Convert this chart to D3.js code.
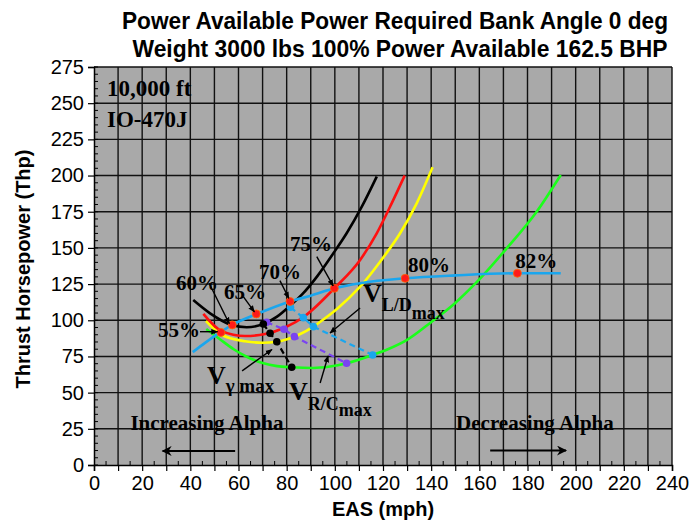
<!DOCTYPE html>
<html><head><meta charset="utf-8">
<script src="https://cdn.jsdelivr.net/npm/d3@7"></script>
<style>body{margin:0;background:#fff}svg{display:block}</style>
</head><body>
<svg id="c" width="690" height="523"></svg>
<script>
// ---- data (EAS mph, thrust horsepower) ----
const xTicks = d3.range(0, 241, 20);
const yTicks = d3.range(0, 276, 25);
const curveBlack  = [[41.2,114],[48.2,104.8],[57.2,96.7],[63.4,95.2],[70.3,97.4],[76,102.5],[81.4,110],[86.5,118],[92.5,130],[99.4,146.3],[104.9,160.1],[111.2,178.5],[117.4,199.3]];
const curveRed    = [[45.4,104.4],[53,92.5],[62.7,89.1],[71,90.5],[79.3,95],[87.6,103],[99.8,122.1],[110.5,141.7],[117.4,160.1],[123.6,180.8],[129,200]];
const curveYellow = [[46.5,99.5],[53,90],[62.7,85.5],[70,84.5],[75.9,85.2],[84.8,89.8],[91.1,95.6],[95.2,100.5],[101,108],[110.5,123.2],[118.8,140.5],[127.1,160.1],[134,180.8],[140.6,205.7]];
const curveGreen  = [[46.6,94],[52.3,86.9],[58,80],[63.4,74.8],[70,70.5],[76,68.3],[82.1,67.5],[91.1,67],[98,68],[104.9,70.3],[115.7,76],[122,80],[130,86.5],[140.2,99],[150,112],[158.2,125.1],[171.4,149.8],[183.8,175],[193.8,200.4]];
const powerAvail  = [[41,78],[45,83],[50.2,89.2],[57.2,96.7],[67.6,104.3],[81.4,113],[90,117],[99.8,122.1],[110.5,125.6],[129.2,129],[150,131],[175.8,132.5],[193.8,132.5]];
const vLDmax   = [[81.6,109],[86.9,101.8],[91.1,95.6],[115.7,76]];
const vRCmax   = [[71.7,98.6],[78.9,93.8],[83.2,88.7],[104.9,70.3]];
const vGammaMax= [[70.3,97.4],[73.1,91],[75.9,85.2],[82.1,67.5]];
const pctLabels = ["55%","60%","65%","70%","75%","80%","82%"];
const pctPoints = [[52.7,91.6],[57.4,96.8],[67.4,104.4],[81.4,113],[99.8,122.1],[129.2,129],[175.8,132.5]];
const pctTextAt = [[35.3,88.5],[42.8,121],[62.7,114.7],[77.2,128.5],[90.1,147.9],[139.1,133.4],[183.6,136.1]];

// ---- layout ----
const svg = d3.select("#c");
const x = d3.scaleLinear().domain([0,240]).range([94,672]);
const y = d3.scaleLinear().domain([0,275]).range([465,67]);

// titles
svg.append("text").attr("x",395).attr("y",29).attr("text-anchor","middle")
  .attr("font-family","Liberation Sans, Arial, sans-serif").attr("font-weight","bold").attr("font-size",23)
  .attr("textLength",546).attr("lengthAdjust","spacingAndGlyphs")
  .text("Power Available Power Required Bank Angle 0 deg");
svg.append("text").attr("x",400).attr("y",57).attr("text-anchor","middle")
  .attr("font-family","Liberation Sans, Arial, sans-serif").attr("font-weight","bold").attr("font-size",23)
  .attr("textLength",535).attr("lengthAdjust","spacingAndGlyphs")
  .text("Weight 3000 lbs 100% Power Available 162.5 BHP");

// plot background
svg.append("rect").attr("x",x(0)).attr("y",y(275)).attr("width",x(240)-x(0)).attr("height",y(0)-y(275)).attr("fill","#a9a9a9");

// grid
const g = svg.append("g");
g.selectAll("line.v").data(d3.range(10,241,10)).join("line")
  .attr("x1",d=>x(d)).attr("x2",d=>x(d)).attr("y1",y(0)).attr("y2",y(275))
  .attr("stroke","#111").attr("stroke-width",1.4);
g.selectAll("line.h").data(d3.range(25,276,25)).join("line")
  .attr("x1",x(0)).attr("x2",x(240)).attr("y1",d=>y(d)).attr("y2",d=>y(d))
  .attr("stroke","#111").attr("stroke-width",1.4);

// minor ticks
g.selectAll("line.my").data(d3.range(0,276,5)).join("line")
  .attr("x1",x(0)).attr("x2",x(0)+4).attr("y1",d=>y(d)).attr("y2",d=>y(d)).attr("stroke","#000").attr("stroke-width",1);
g.selectAll("line.mx").data(d3.range(5,241,10)).join("line")
  .attr("x1",d=>x(d)).attr("x2",d=>x(d)).attr("y1",y(0)).attr("y2",y(0)-4).attr("stroke","#000").attr("stroke-width",1);

// axes
const yAxis = svg.append("g").attr("transform",`translate(${x(0)},0)`)
  .call(d3.axisLeft(y).tickValues(yTicks).tickSize(6).tickPadding(4));
const xAxis = svg.append("g").attr("transform",`translate(0,${y(0)})`)
  .call(d3.axisBottom(x).tickValues(d3.range(0,241,10)).tickSize(6).tickPadding(5).tickFormat(d=> d%20===0? d : ""));
[yAxis,xAxis].forEach(a=>{
  a.selectAll("text").attr("font-family","Liberation Sans, Arial, sans-serif").attr("font-size",20).attr("fill","#000");
  a.selectAll("line").attr("stroke","#000").attr("stroke-width",1.2);
  a.select(".domain").attr("stroke","#000").attr("stroke-width",1.5);
});

svg.append("text").attr("x",383).attr("y",516).attr("text-anchor","middle")
  .attr("font-family","Liberation Sans, Arial, sans-serif").attr("font-weight","bold").attr("font-size",20)
  .text("EAS (mph)");
svg.append("text").attr("transform","translate(30,269) rotate(-90)").attr("text-anchor","middle")
  .attr("font-family","Liberation Sans, Arial, sans-serif").attr("font-weight","bold").attr("font-size",20)
  .text("Thrust Horsepower (Thp)");

// defs arrowhead
svg.append("defs").append("marker").attr("id","ah").attr("viewBox","0 0 10 10").attr("refX",9).attr("refY",5)
  .attr("markerWidth",7).attr("markerHeight",7).attr("markerUnits","userSpaceOnUse").attr("orient","auto")
  .append("path").attr("d","M0,1 L10,5 L0,9 Z").attr("fill","#000");
svg.select("defs").append("marker").attr("id","ahBig").attr("viewBox","0 0 10 10").attr("refX",9).attr("refY",5)
  .attr("markerWidth",12).attr("markerHeight",10).attr("markerUnits","userSpaceOnUse").attr("orient","auto")
  .append("path").attr("d","M0,0 L10,5 L0,10 L3,5 Z").attr("fill","#000");

const line = d3.line().x(d=>x(d[0])).y(d=>y(d[1])).curve(d3.curveMonotoneX);
const straight = d3.line().x(d=>x(d[0])).y(d=>y(d[1]));
const plot = svg.append("g");
[[curveGreen,"#1aff1a"],[curveYellow,"#ffff00"],[curveRed,"#ff1010"],[curveBlack,"#000"],[powerAvail,"#1aa6ee"]]
  .forEach(([d,c])=> plot.append("path").attr("d",line(d)).attr("fill","none").attr("stroke",c).attr("stroke-width",2.6));

// dashed optimal-speed lines
[[vLDmax,"#1aa6ee"],[vRCmax,"#7a44f0"],[vGammaMax,"#000"]].forEach(([d,c])=>{
  plot.append("path").attr("d",straight(d)).attr("fill","none").attr("stroke",c).attr("stroke-width",2.2).attr("stroke-dasharray","6,4");
  plot.selectAll(null).data(d).join("circle").attr("cx",p=>x(p[0])).attr("cy",p=>y(p[1])).attr("r",3.8).attr("fill",c);
});

// percent points
plot.selectAll(null).data(pctPoints).join("circle").attr("cx",p=>x(p[0])).attr("cy",p=>y(p[1])).attr("r",4)
  .attr("fill","#ff1a1a").attr("stroke","#ff6a00").attr("stroke-width",0.8);

const serif = "Liberation Serif, Times New Roman, serif";
plot.selectAll(null).data(pctLabels).join("text")
  .attr("x",(d,i)=>x(pctTextAt[i][0])).attr("y",(d,i)=>y(pctTextAt[i][1])).attr("text-anchor","middle")
  .attr("font-family",serif).attr("font-weight","bold").attr("font-size",21).text(d=>d);

// leader arrows (data coords)
const leaders = [
  [[44,92.1],[51.3,92.1]],
  [[47.8,125.6],[56.2,97.6]],
  [[62,116.3],[66.6,105.8]],
  [[77.2,127.4],[80.9,115.2]],
  [[92.5,144],[99.3,123.8]],
  [[110.5,108.5],[98,91.2]],
  [[61.5,65],[73.9,79.8]],
  [[93.9,56.7],[97.2,75.3]]
];
leaders.forEach(l=> plot.append("path").attr("d",straight(l)).attr("stroke","#000").attr("stroke-width",1.4).attr("fill","none").attr("marker-end","url(#ah)"));

// big alpha arrows
[[[58.6,9.7],[28.5,9.7]],[[164.5,10],[196,10]]].forEach(l=>
  plot.append("path").attr("d",straight(l)).attr("stroke","#000").attr("stroke-width",2).attr("fill","none").attr("marker-end","url(#ahBig)"));

function txt(xv,yv,s,size,anchor){
  return plot.append("text").attr("x",x(xv)).attr("y",y(yv)).attr("text-anchor",anchor||"start")
    .attr("font-family",serif).attr("font-weight","bold").attr("font-size",size).text(s);
}
txt(5.4,255,"10,000 ft",23);
txt(5.4,233.6,"IO-470J",23);
txt(46.9,24.2,"Increasing Alpha",21,"middle");
txt(183.1,24.2,"Decreasing Alpha",21,"middle");

function vsub(xv,yv,sub,d1,d2,subSize){
  const t = plot.append("text").attr("x",x(xv)).attr("y",y(yv)).attr("font-family",serif).attr("font-weight","bold").attr("font-size",26);
  t.append("tspan").text("V");
  t.append("tspan").attr("dy",d1).attr("font-size",subSize).text(sub[0]);
  t.append("tspan").attr("dy",d2).attr("font-size",subSize).text(sub[1]);
}
vsub(111.7,112.6,["L/D","max"],9,8,18);
vsub(46.9,56,["γ"," max"],8,0,19);
vsub(81,44.9,["R/C","max"],10,6,18);
</script>
</body></html>
